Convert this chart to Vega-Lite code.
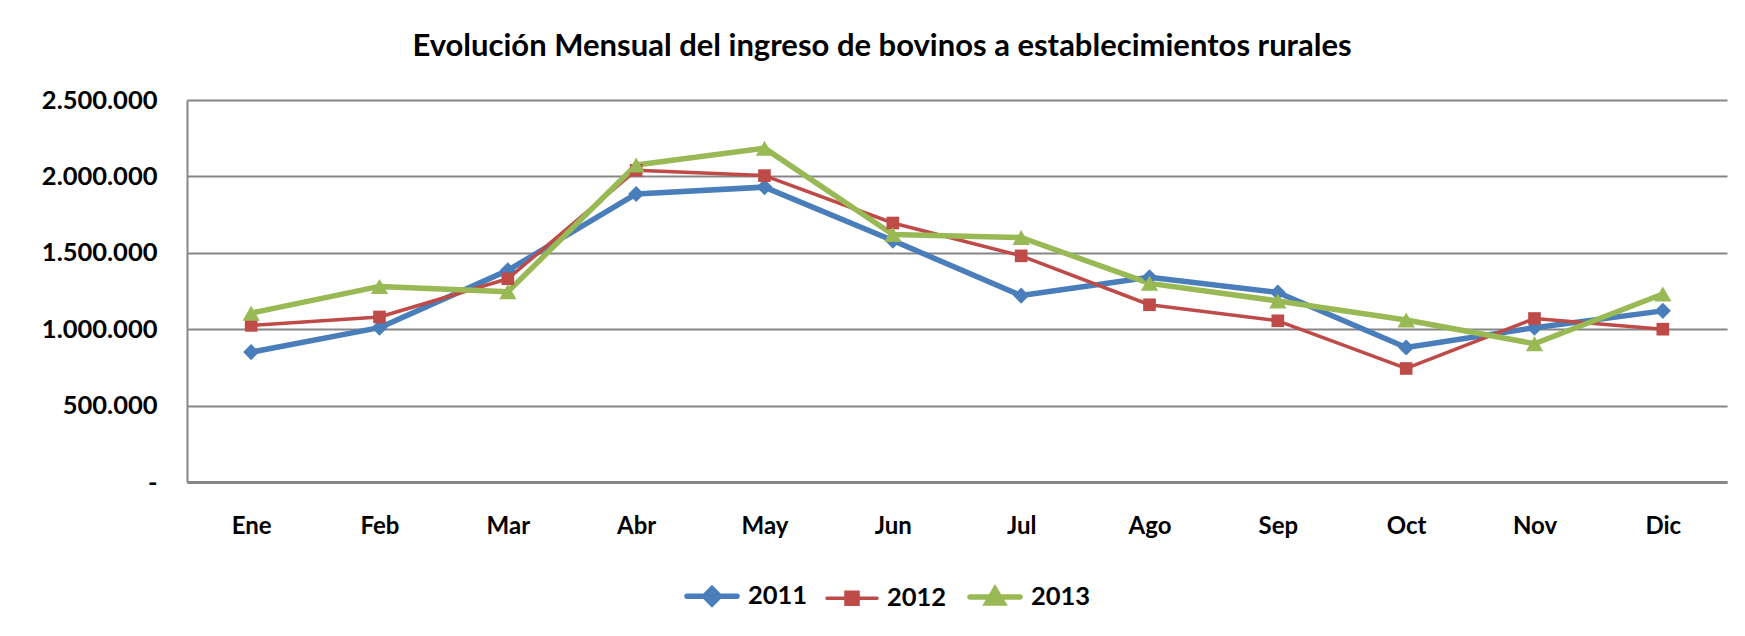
{
  "$schema": "https://vega.github.io/schema/vega-lite/v6.json",
  "width": 1540,
  "height": 382,
  "autosize": {"type": "none"},
  "padding": {"left": 187, "top": 100, "right": 18, "bottom": 154},
  "background": "white",
  "config": {
    "locale": {"number": {"decimal": ",", "thousands": ".", "grouping": [3], "currency": ["$", ""]}},
    "font": "Lato",
    "view": {"stroke": null},
    "axis": {
      "labelFont": "Lato",
      "labelFontSize": 24,
      "labelFontWeight": "bold",
      "labelColor": "#000000",
      "ticks": false,
      "title": null,
      "domainColor": "#868686"
    }
  },
  "title": {
    "text": "Evolución Mensual del ingreso de bovinos a establecimientos rurales",
    "font": "Lato",
    "fontSize": 31,
    "fontWeight": "bold",
    "color": "#000000",
    "anchor": "middle",
    "baseline": "alphabetic",
    "offset": 1,
    "dx": -75
  },
  "data": {
    "values": [
      {"mes": "Ene", "anio": "2011", "valor": 850000},
      {"mes": "Feb", "anio": "2011", "valor": 1010000},
      {"mes": "Mar", "anio": "2011", "valor": 1385000},
      {"mes": "Abr", "anio": "2011", "valor": 1885000},
      {"mes": "May", "anio": "2011", "valor": 1930000},
      {"mes": "Jun", "anio": "2011", "valor": 1580000},
      {"mes": "Jul", "anio": "2011", "valor": 1220000},
      {"mes": "Ago", "anio": "2011", "valor": 1340000},
      {"mes": "Sep", "anio": "2011", "valor": 1240000},
      {"mes": "Oct", "anio": "2011", "valor": 880000},
      {"mes": "Nov", "anio": "2011", "valor": 1010000},
      {"mes": "Dic", "anio": "2011", "valor": 1120000},
      {"mes": "Ene", "anio": "2012", "valor": 1025000},
      {"mes": "Feb", "anio": "2012", "valor": 1080000},
      {"mes": "Mar", "anio": "2012", "valor": 1330000},
      {"mes": "Abr", "anio": "2012", "valor": 2040000},
      {"mes": "May", "anio": "2012", "valor": 2005000},
      {"mes": "Jun", "anio": "2012", "valor": 1695000},
      {"mes": "Jul", "anio": "2012", "valor": 1480000},
      {"mes": "Ago", "anio": "2012", "valor": 1160000},
      {"mes": "Sep", "anio": "2012", "valor": 1055000},
      {"mes": "Oct", "anio": "2012", "valor": 743000},
      {"mes": "Nov", "anio": "2012", "valor": 1070000},
      {"mes": "Dic", "anio": "2012", "valor": 1000000},
      {"mes": "Ene", "anio": "2013", "valor": 1105000},
      {"mes": "Feb", "anio": "2013", "valor": 1280000},
      {"mes": "Mar", "anio": "2013", "valor": 1245000},
      {"mes": "Abr", "anio": "2013", "valor": 2075000},
      {"mes": "May", "anio": "2013", "valor": 2185000},
      {"mes": "Jun", "anio": "2013", "valor": 1620000},
      {"mes": "Jul", "anio": "2013", "valor": 1600000},
      {"mes": "Ago", "anio": "2013", "valor": 1300000},
      {"mes": "Sep", "anio": "2013", "valor": 1185000},
      {"mes": "Oct", "anio": "2013", "valor": 1060000},
      {"mes": "Nov", "anio": "2013", "valor": 905000},
      {"mes": "Dic", "anio": "2013", "valor": 1230000}
    ]
  },
  "encoding": {
    "x": {
      "field": "mes",
      "type": "ordinal",
      "sort": ["Ene", "Feb", "Mar", "Abr", "May", "Jun", "Jul", "Ago", "Sep", "Oct", "Nov", "Dic"],
      "axis": {"labelAngle": 0, "domainWidth": 3, "labelPadding": 32, "grid": false}
    },
    "y": {
      "field": "valor",
      "type": "quantitative",
      "scale": {"domain": [0, 2500000], "nice": false},
      "axis": {
        "values": [0, 500000, 1000000, 1500000, 2000000, 2500000],
        "format": ",d",
        "labelExpr": "datum.value == 0 ? '-\u00a0\u00a0' : datum.label",
        "labelPadding": 30,
        "labelFontSize": 25.5,
        "domainWidth": 2,
        "grid": true,
        "gridColor": "#868686",
        "gridWidth": 2
      }
    }
  },
  "layer": [
    {
      "mark": {"type": "line", "strokeJoin": "round", "strokeCap": "round"},
      "encoding": {
        "strokeWidth": {
          "field": "anio",
          "type": "nominal",
          "scale": {"type": "ordinal", "domain": ["2011", "2012", "2013"], "range": [5.5, 3.5, 5.5]},
          "legend": null
        },
        "color": {
          "field": "anio",
          "type": "nominal",
          "scale": {"domain": ["2011", "2012", "2013"], "range": ["#4A7EBB", "#BE4B48", "#98B954"]},
          "legend": {
            "title": null,
            "orient": "none",
            "direction": "horizontal",
            "legendX": 497,
            "legendY": 468,
            "labelFont": "Lato",
            "labelFontSize": 25.5,
            "labelFontWeight": "bold",
            "labelColor": "#000000",
            "symbolSize": 2500,
            "labelOffset": 8,
            "columnPadding": 12,
            "encode": {
              "symbols": {
                "update": {
                  "shape": {"signal": "datum.value == '2011' ? 'M-1,0L1,0M0,-0.3L0.3,0L0,0.3L-0.3,0Z' : datum.value == '2012' ? 'M-1,0L1,0M-0.24,-0.24L0.24,-0.24L0.24,0.24L-0.24,0.24Z' : 'M-1,0L1,0M0,-0.3L0.32,0.24L-0.32,0.24Z'"},
                  "strokeWidth": {"signal": "datum.value == '2012' ? 3.5 : 5"},
                  "fill": {"signal": "scale('color', datum.value)"},
                  "stroke": {"signal": "scale('color', datum.value)"},
                  "strokeCap": {"value": "round"},
                  "opacity": {"value": 1},
                  "fillOpacity": {"value": 1},
                  "strokeOpacity": {"value": 1}
                }
              }
            }
          }
        }
      }
    },
    {
      "transform": [{"filter": "datum.anio == '2011'"}],
      "mark": {"type": "point", "filled": true, "opacity": 1, "shape": "diamond", "size": 260, "color": "#4A7EBB"}
    },
    {
      "transform": [{"filter": "datum.anio == '2012'"}],
      "mark": {"type": "point", "filled": true, "opacity": 1, "shape": "square", "size": 160, "color": "#BE4B48"}
    },
    {
      "transform": [{"filter": "datum.anio == '2013'"}],
      "mark": {"type": "point", "filled": true, "opacity": 1, "shape": "triangle-up", "size": 300, "color": "#98B954"}
    }
  ]
}
